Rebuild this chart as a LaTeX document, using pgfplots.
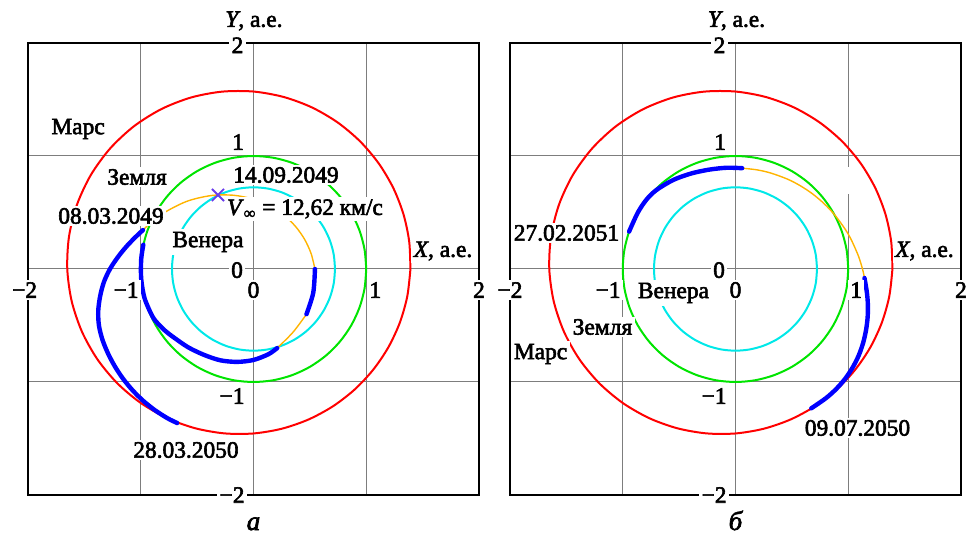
\documentclass[border=0pt]{standalone}
\usepackage{pgfplots}
\pgfplotsset{compat=1.18}
\usepgfplotslibrary{polar}
\usepackage{pgfplotstable}
\usepackage{fontspec}
\setmainfont{Liberation Serif}[FakeBold=2.5]

\definecolor{cVen}{RGB}{0,232,232}
\definecolor{cEar}{RGB}{0,228,0}
\definecolor{cMar}{RGB}{255,0,0}
\definecolor{cThr}{RGB}{0,0,255}
\definecolor{cCoast}{RGB}{255,180,0}
\definecolor{cMark}{RGB}{105,60,235}
\definecolor{cGrid}{RGB}{125,125,125}

% orbits: angle (deg), radius (a.e.) of Venus, Earth, Mars
\pgfplotstableread{
th rv re rm
0 0.723 1 1.3919
10 0.723 1 1.4021
20 0.723 1 1.4156
30 0.723 1 1.4321
40 0.723 1 1.4512
50 0.723 1 1.4728
60 0.723 1 1.4961
70 0.723 1 1.5206
80 0.723 1 1.5456
90 0.723 1 1.5704
100 0.723 1 1.5939
110 0.723 1 1.6155
120 0.723 1 1.6342
130 0.723 1 1.6492
140 0.723 1 1.6597
150 0.723 1 1.6654
160 0.723 1 1.6659
170 0.723 1 1.6613
180 0.723 1 1.6516
190 0.723 1 1.6375
200 0.723 1 1.6195
210 0.723 1 1.5985
220 0.723 1 1.5752
230 0.723 1 1.5506
240 0.723 1 1.5256
250 0.723 1 1.5008
260 0.723 1 1.4773
270 0.723 1 1.4554
280 0.723 1 1.4357
290 0.723 1 1.4186
300 0.723 1 1.4046
310 0.723 1 1.3937
320 0.723 1 1.3862
330 0.723 1 1.3823
340 0.723 1 1.3819
350 0.723 1 1.3852
360 0.723 1 1.3919
}\orbits

\pgfplotsset{
  panel/.style={scale only axis, width=225.5pt, height=226pt,
    xmin=-2, xmax=2, ymin=-2, ymax=2,
    xtick={-1,0,1}, ytick={-1,0,1},
    xticklabels={{},{},{}}, yticklabels={{},{},{}},
    major tick length=0pt,
    grid=major, grid style={cGrid, line width=0.5pt},
    axis line style={line width=0.65pt},
    clip=false, anchor=south west},
  orbit/.style={line width=1pt, smooth, data cs=polar},
  coast/.style={cCoast, line width=0.7pt, smooth},
  thrust/.style={cThr, line width=2.2pt, smooth, line cap=round},
}
\tikzset{lab/.style={fill=white, inner sep=1.2pt, font=\fontsize{11.7}{14}\selectfont},
  sub/.style={font=\fontsize{13.5}{16}\selectfont\itshape, anchor=base}}

\begin{document}
\begin{tikzpicture}
% ---------------- panel a ----------------
\begin{axis}[panel, at={(0pt,0pt)}]
\addplot[cMar, orbit] table[x=th, y=rm] {\orbits};
\addplot[cEar, orbit] table[x=th, y=re] {\orbits};
\addplot[cVen, orbit] table[x=th, y=rv] {\orbits};
\addplot[coast] coordinates {(0.21,-0.70) (0.35,-0.56) (0.47,-0.40)};
\addplot[coast] coordinates {(0.545,0.0) (0.5109,0.1369) (0.4536,0.2619) (0.3745,0.3745) (0.2732,0.4732) (0.1489,0.5557) (0,0.6176) (-0.1748,0.6523) (-0.3752,0.6499) (-0.5968,0.5968) (-0.8268,0.4773) (-0.98,0.345)};
\addplot[thrust] coordinates {(-0.977,0.215) (-0.996,0.087) (-0.996,-0.087) (-0.966,-0.259) (-0.897,-0.418) (-0.844,-0.4875) (-0.782,-0.548) (-0.715,-0.600) (-0.581,-0.692) (-0.439,-0.760) (-0.294,-0.808) (-0.145,-0.822) (0,-0.805) (0.133,-0.754) (0.210,-0.700)};
\addplot[thrust] coordinates {(0.47,-0.40) (0.53,-0.21) (0.545,0.0)};
\addplot[thrust] coordinates {(-0.980,0.345) (-1.048,0.281) (-1.127,0.199) (-1.203,0.105) (-1.273,0) (-1.327,-0.116) (-1.360,-0.240) (-1.377,-0.369) (-1.371,-0.499) (-1.340,-0.625) (-1.291,-0.746) (-1.230,-0.861) (-1.157,-0.971) (-1.073,-1.073) (-0.979,-1.166) (-0.875,-1.249) (-0.7625,-1.321) (-0.677,-1.363)};
\addplot[only marks, mark=x, mark size=4.3pt, cMark, mark options={line width=0.9pt}] coordinates {(-0.315,0.655)};
\node[lab] at (axis cs:-1.556,1.239) {Марс};
\node[lab] at (axis cs:-1.033,0.814) {Земля};
\node[lab] at (axis cs:0.288,0.832) {14.09.2049};
\node[lab] at (axis cs:-1.264,0.469) {08.03.2049};
\node[lab] at (axis cs:0.457,0.531) {\textit{V}\textsubscript{∞} = 12,62 км/с};
\node[lab] at (axis cs:-0.404,0.239) {Венера};
\node[lab] at (axis cs:-0.599,-1.602) {28.03.2050};
\node[lab] at (axis cs:1.681,0.159) {\textit{X}, а.е.};
\node[lab] at (axis cs:0.004,2.195) {\textit{Y}, а.е.};
\node[lab] at (axis cs:-2.03,-0.186) {−2};
\node[lab] at (axis cs:-1.13,-0.186) {−1};
\node[lab] at (axis cs:0,-0.186) {0};
\node[lab] at (axis cs:1.08,-0.186) {1};
\node[lab] at (axis cs:2.0,-0.186) {2};
\node[lab] at (axis cs:-0.142,1.98) {2};
\node[lab] at (axis cs:-0.137,1.124) {1};
\node[lab] at (axis cs:-0.146,-0.01) {0};
\node[lab] at (axis cs:-0.19,-1.124) {−1};
\node[lab] at (axis cs:-0.19,-2.0) {−2};
\node[sub] at (axis cs:0,-2.31) {а};
\end{axis}
% ---------------- panel b ----------------
\begin{axis}[panel, at={(241pt,0pt)}]
\addplot[cMar, orbit] table[x=th, y=rm] {\orbits};
\addplot[cEar, orbit] table[x=th, y=re] {\orbits};
\addplot[cVen, orbit] table[x=th, y=rv] {\orbits};
\addplot[coast] coordinates {(1.1442,-0.080) (1.1262,0) (1.0904,0.1146) (1.0263,0.2597) (0.9716,0.3536) (0.8850,0.4725) (0.7902,0.5741) (0.6847,0.6638) (0.5753,0.7364) (0.4595,0.7959) (0.3095,0.8502) (0.1866,0.8780) (0.0592,0.8920)};
\addplot[thrust] coordinates {(0.672,-1.233) (0.801,-1.144) (0.892,-1.063) (0.972,-0.972) (1.039,-0.872) (1.093,-0.765) (1.132,-0.654) (1.158,-0.540) (1.172,-0.426) (1.174,-0.314) (1.165,-0.205) (1.144,-0.080)};
\addplot[thrust] coordinates {(0.0592,0.892) (-0.078,0.896) (-0.2355,0.879) (-0.394,0.845) (-0.552,0.788) (-0.700,0.700) (-0.788,0.616) (-0.866,0.5) (-0.944,0.3305)};
\node[lab] at (axis cs:-1.499,0.319) {27.02.2051};
\node[lab] at (axis cs:-0.550,-0.212) {Венера};
\node[lab] at (axis cs:-1.180,-0.513) {Земля};
\node[lab] at (axis cs:-1.729,-0.752) {Марс};
\node[lab] at (axis cs:1.082,-1.407) {09.07.2050};
\node[lab] at (axis cs:1.676,0.159) {\textit{X}, а.е.};
\node[lab] at (axis cs:0.009,2.195) {\textit{Y}, а.е.};
\node[fill=white, inner sep=0pt, minimum width=2.5pt, minimum height=13.5pt] at (axis cs:0.993,0.78) {};
\node[lab] at (axis cs:-2.0,-0.186) {−2};
\node[lab] at (axis cs:-1.13,-0.186) {−1};
\node[lab] at (axis cs:0,-0.186) {0};
\node[lab] at (axis cs:1.07,-0.186) {1};
\node[lab] at (axis cs:2.0,-0.186) {2};
\node[lab] at (axis cs:-0.142,1.98) {2};
\node[lab] at (axis cs:-0.137,1.124) {1};
\node[lab] at (axis cs:-0.146,-0.01) {0};
\node[lab] at (axis cs:-0.19,-1.124) {−1};
\node[lab] at (axis cs:-0.19,-2.0) {−2};
\node[sub] at (axis cs:0,-2.31) {б};
\end{axis}
\pgfresetboundingbox
\path[use as bounding box] (-14pt,-19pt) rectangle (470pt,247.5pt);
\end{tikzpicture}
\end{document}
